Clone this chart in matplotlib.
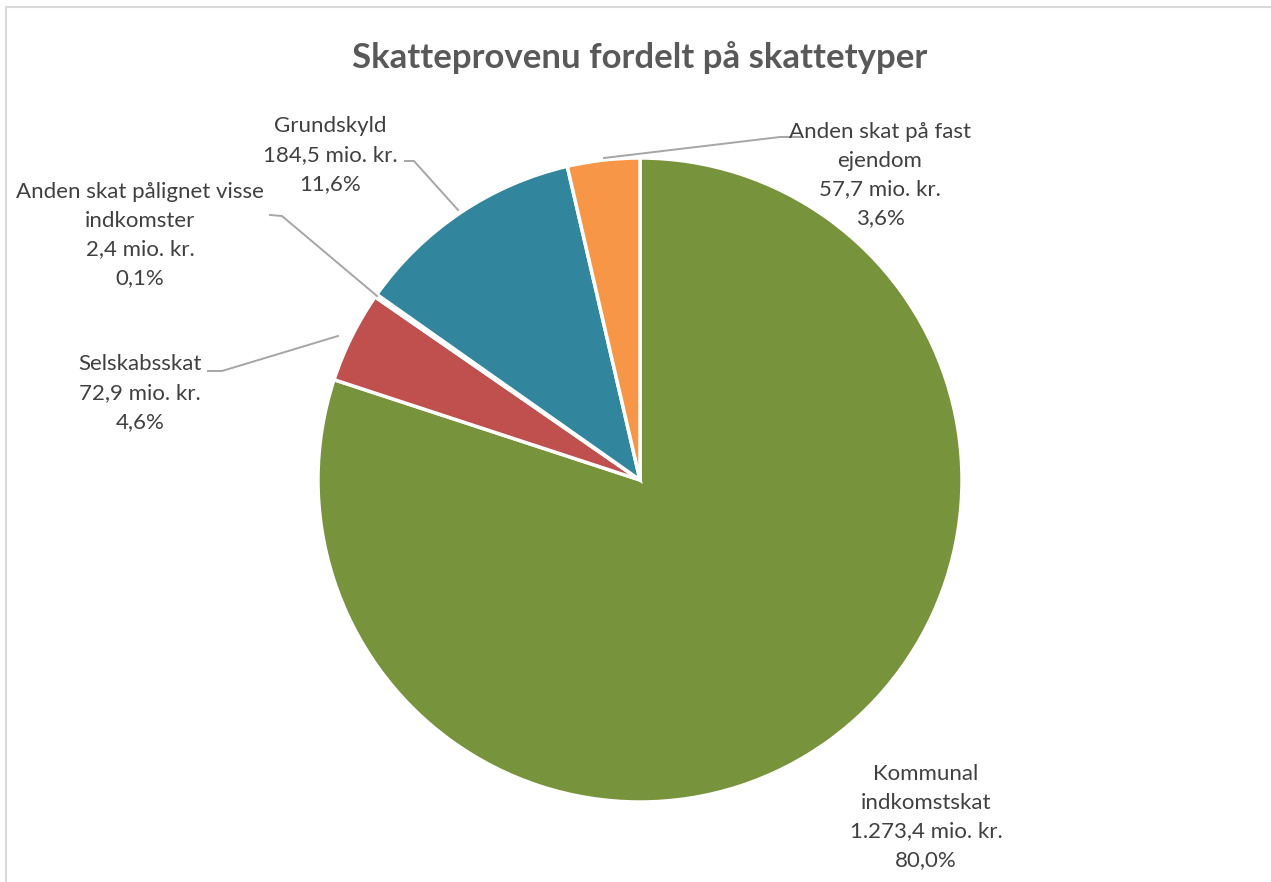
import matplotlib

matplotlib.use("Agg")
import matplotlib.pyplot as plt

plt.rcParams["font.family"] = ["Lato", "DejaVu Sans"]

TITLE = "Skatteprovenu fordelt på skattetyper"

# clockwise from 12 o'clock
CATEGORIES = [
    "Kommunal\nindkomstskat",
    "Selskabsskat",
    "Anden skat pålignet visse\nindkomster",
    "Grundskyld",
    "Anden skat på fast\nejendom",
]
AMOUNTS = [1273.4, 72.9, 2.4, 184.5, 57.7]  # mio. kr.
SHARES = [80.0, 4.6, 0.1, 11.6, 3.6]  # percent
COLORS = ["#77933C", "#C0504D", "#4F81BD", "#31859C", "#F79646"]

W, H = 1271, 882
CX, CY, R = 640, 480, 322  # pie in pixel coords (y down)

# label block centre, pixel coords (y down)
LABEL_POS = [(926, 817), (140, 393), (140, 235), (330, 155), (880, 175)]
LEADERS = [
    None,
    [(208, 371), (222, 371), (338, 336)],
    [(270, 215), (282, 216), (377, 296)],
    [(405, 161), (414, 161), (458, 210)],
    [(800, 137), (780, 137), (604, 158)],
]


def dk_number(v):
    s = f"{v:,.1f}"
    return s.replace(",", "_").replace(".", ",").replace("_", ".")


def main():
    fig = plt.figure(figsize=(W / 100, H / 100), dpi=100)
    ax = fig.add_axes([0, 0, 1, 1])
    ax.set_xlim(0, W)
    ax.set_ylim(0, H)
    ax.set_aspect("equal")
    ax.axis("off")

    # chart area frame (only top/left visible in the crop)
    ax.plot([6, 6, W + 10], [-10, H - 7, H - 7], color="#D9D9D9", lw=1.5)

    ax.pie(AMOUNTS, colors=COLORS, center=(CX, H - CY), radius=R,
           startangle=90, counterclock=False,
           wedgeprops=dict(edgecolor="white", linewidth=2.5))
    ax.set_xlim(0, W)
    ax.set_ylim(0, H)

    for name, amount, share, (lx, ly), leader in zip(
            CATEGORIES, AMOUNTS, SHARES, LABEL_POS, LEADERS):
        text = f"{name}\n{dk_number(amount)} mio. kr.\n{dk_number(share)}%"
        ax.text(lx, H - ly, text, ha="center", va="center", fontsize=16,
                color="#404040", linespacing=1.55)
        if leader:
            xs = [p[0] for p in leader]
            ys = [H - p[1] for p in leader]
            ax.plot(xs, ys, color="#A6A6A6", lw=1.4)

    ax.text(W / 2 + 4, H - 58, TITLE, ha="center", va="center", fontsize=25,
            fontweight="bold", color="#595959")

    fig.savefig("out.png", dpi=100)
    plt.close(fig)


if __name__ == "__main__":
    main()
